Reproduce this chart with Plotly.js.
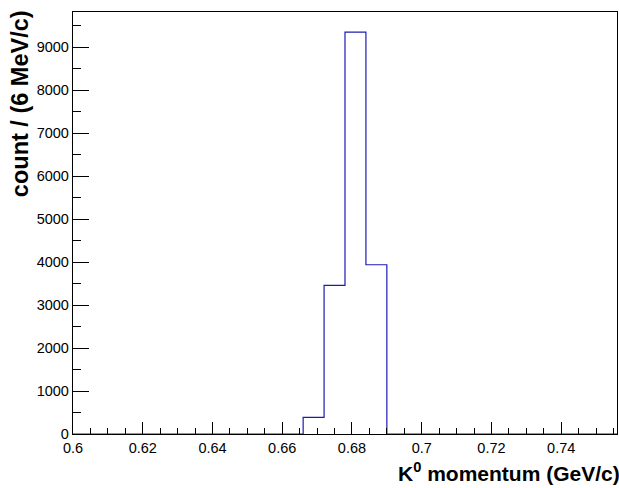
<!DOCTYPE html>
<html>
<head>
<meta charset="utf-8">
<script src="https://cdn.plot.ly/plotly-3.0.1.min.js"></script>
<style>html,body{margin:0;padding:0;background:#fff;}#chart{width:619px;height:488px;}</style>
</head>
<body>
<div id="chart"></div>
<script>
// Histogram: K0 momentum, 6 MeV/c bins from 0.600 to 0.756 GeV/c
var binLow = 0.600;
var binWidth = 0.006;
var counts = [0, 0, 0, 0, 0, 0, 0, 0, 0, 0, 0, 385, 3460, 9355, 3940, 0, 0, 0, 0, 0, 0, 0, 0, 0, 0, 0];
var xTickVals = [0.6, 0.62, 0.64, 0.66, 0.68, 0.7, 0.72, 0.74];
var xTickText = ['0.6', '0.62', '0.64', '0.66', '0.68', '0.7', '0.72', '0.74'];
var yTickVals = [0, 1000, 2000, 3000, 4000, 5000, 6000, 7000, 8000, 9000];
var yTickText = ['0', '1000', '2000', '3000', '4000', '5000', '6000', '7000', '8000', '9000'];
var xTitle = 'K<sup>0</sup> momentum (GeV/c)';
var yTitle = 'count / (6 MeV/c)';

var edges = [];
for (var i = 0; i <= counts.length; i++) edges.push(+(binLow + i * binWidth).toFixed(4));
var stepY = counts.concat([counts[counts.length - 1]]);
var xMax = edges[edges.length - 1];
var yMax = Math.max.apply(null, counts) * 1.05;

var font = 'Liberation Sans, Arial, Helvetica, sans-serif';

var trace = {
  type: 'scatter', mode: 'lines',
  x: edges, y: stepY,
  line: {shape: 'hv', color: '#1c1cb4', width: 1.2},
  hoverinfo: 'x+y', showlegend: false
};

var layout = {
  width: 619, height: 488,
  margin: {l: 73, r: 2, t: 12, b: 54, pad: 0},
  paper_bgcolor: '#ffffff', plot_bgcolor: '#ffffff',
  font: {family: font, color: '#000', size: 14.5},
  showlegend: false,
  xaxis: {
    range: [binLow, xMax], showgrid: false, zeroline: false,
    showline: true, linecolor: '#000', linewidth: 1.2, mirror: true,
    ticks: 'inside', ticklen: 12, tickcolor: '#000', tickwidth: 1,
    tickmode: 'array', tickvals: xTickVals, ticktext: xTickText,
    tickfont: {family: font, size: 14.5, color: '#000'},
    minor: {ticks: 'inside', dtick: 0.005, tick0: 0.6, ticklen: 6, tickcolor: '#000', tickwidth: 1, showgrid: false}
  },
  yaxis: {
    range: [0, yMax], showgrid: false, zeroline: false,
    showline: true, linecolor: '#000', linewidth: 1.2, mirror: true,
    ticks: 'inside', ticklen: 16, tickcolor: '#000', tickwidth: 1,
    tickmode: 'array', tickvals: yTickVals, ticktext: yTickText,
    tickfont: {family: font, size: 14.5, color: '#000'},
    minor: {ticks: 'inside', dtick: 500, tick0: 0, ticklen: 8, tickcolor: '#000', tickwidth: 1, showgrid: false}
  },
  annotations: [
    {text: yTitle, xref: 'paper', yref: 'paper', x: -0.0974, y: 1.008, xanchor: 'center', yanchor: 'top',
     textangle: -90, showarrow: false, font: {family: font, size: 23.5, color: '#000', weight: 'bold'}},
    {text: xTitle, xref: 'paper', yref: 'paper', x: 1.01, y: -0.09, xanchor: 'right', yanchor: 'middle',
     showarrow: false, font: {family: font, size: 21, color: '#000', weight: 'bold'}}
  ]
};

Plotly.newPlot('chart', [trace], layout, {displayModeBar: false, staticPlot: true});
</script>
</body>
</html>
